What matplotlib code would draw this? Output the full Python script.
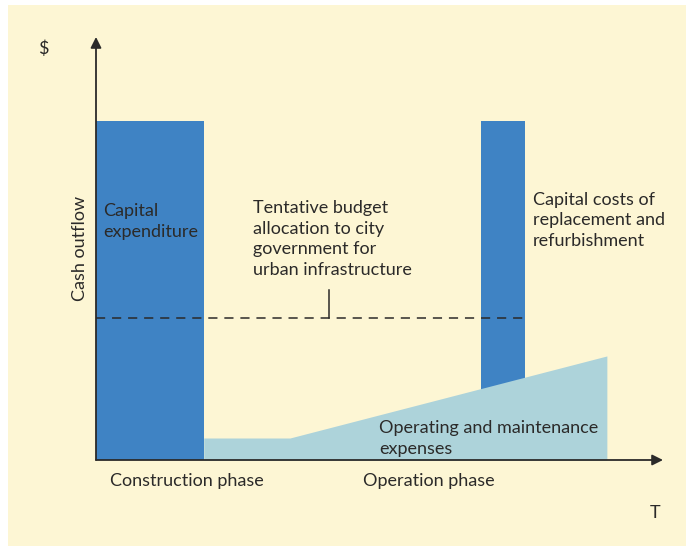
import matplotlib.pyplot as plt
from matplotlib.patches import Rectangle

plt.rcParams['font.family'] = ['Lato', 'DejaVu Sans']

# chart values (time on x 0-100, cash outflow on y 0-100)
capex_x = [0.0, 19.0]            # construction phase bar: start, end
capex_height = 80.1
replace_x = [67.9, 75.7]         # replacement / refurbishment bar
replace_height = 80.1
om_x = [19.0, 34.2, 90.1]        # operating & maintenance outline
om_y = [5.2, 5.2, 24.6]
budget_level = 33.6
budget_end = 76.0
budget_tick_x = 41.1
budget_tick_top = 40.2

W, H = 686, 546
bg = '#FDF6D4'
dark_blue = '#3F83C4'
light_blue = '#ADD3DA'
ink = '#2B2A29'

fig = plt.figure(figsize=(W / 100, H / 100), dpi=100, facecolor='white')
fig.patches.append(Rectangle((8 / W, 0), 1, 1 - 5 / H, transform=fig.transFigure,
                             facecolor=bg, edgecolor='none', zorder=-5))

ax = fig.add_axes([96 / W, 86 / H, 567 / W, 423 / H])
ax.set_xlim(0, 100)
ax.set_ylim(0, 100)
ax.axis('off')

ax.bar(capex_x[0], capex_height, width=capex_x[1] - capex_x[0], align='edge',
       color=dark_blue, zorder=2)
ax.bar(replace_x[0], replace_height, width=replace_x[1] - replace_x[0], align='edge',
       color=dark_blue, zorder=2)
ax.fill_between(om_x, 0, om_y, color=light_blue, lw=0, zorder=3)

# budget line and its pointer
ax.plot([0, budget_end], [budget_level, budget_level], color=ink, lw=1.1,
        dashes=(6, 4.5), zorder=4)
ax.plot([budget_tick_x, budget_tick_x], [budget_level, budget_tick_top], color=ink,
        lw=1.1, zorder=4)

# axes with arrows
arrow = dict(arrowstyle='-|>', color=ink, lw=1.3, mutation_scale=16, shrinkA=0, shrinkB=0)
ax.annotate('', xy=(0, 1), xytext=(0, 0), xycoords='axes fraction', arrowprops=arrow, zorder=5)
ax.annotate('', xy=(1, 0), xytext=(0, 0), xycoords='axes fraction', arrowprops=arrow, zorder=5)


def label(x, y, s, **kw):
    # y is the baseline of the last line, in pixels from the top
    fig.text(x / W, 1 - y / H, s, color=ink, fontsize=13, va='baseline',
             linespacing=1.35, **kw)


label(38, 54, '$')
label(650, 518, 'T')
fig.text(80 / W, 1 - 248 / H, 'Cash outflow', rotation=90, color=ink, fontsize=13,
         ha='center', va='center')
label(103, 237, 'Capital\nexpenditure')
label(253, 275, 'Tentative budget\nallocation to city\ngovernment for\nurban infrastructure')
label(533, 246, 'Capital costs of\nreplacement and\nrefurbishment')
label(379, 454, 'Operating and maintenance\nexpenses')
label(110, 486, 'Construction phase')
label(363, 486, 'Operation phase')

fig.savefig('out.png', dpi=100, facecolor='white')
